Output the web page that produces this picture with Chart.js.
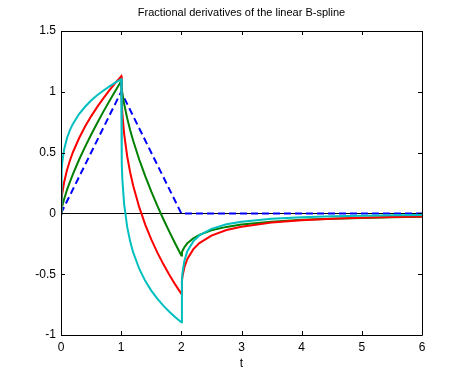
<!DOCTYPE html>
<html>
<head>
<meta charset="utf-8">
<script src="https://cdn.jsdelivr.net/npm/chart.js@4.4.9/dist/chart.umd.min.js"></script>
<style>
  html, body { margin: 0; padding: 0; background: #fff; }
  #wrap { width: 466px; height: 376px; }
</style>
</head>
<body>
<div id="wrap"><canvas id="chart" width="466" height="376"></canvas></div>
<script>
// sample points in t
const tValues = [0, 0.01, 0.02, 0.05, 0.1, 0.15, 0.2, 0.3, 0.4, 0.5, 0.6, 0.7, 0.8, 0.9, 1.0,
    1.01, 1.02, 1.05, 1.1, 1.15, 1.2, 1.3, 1.4, 1.5, 1.6, 1.7, 1.8, 1.9, 2.0,
    2.01, 2.02, 2.05, 2.1, 2.2, 2.3, 2.5, 2.75, 3, 3.5, 4, 4.5, 5, 5.5, 6];

// blue dashed hat (the spline itself)
const splineT = [0, 1, 2, 6];
const splineY = [0, 1, 0, 0];

// green curve
const greenY = [0, 0.034, 0.058, 0.115, 0.194, 0.262, 0.325, 0.441, 0.547, 0.647, 0.742, 0.833, 0.920, 1.005, 1.088,
    1.027, 0.989, 0.899, 0.782, 0.684, 0.597, 0.443, 0.306, 0.181, 0.064, -0.046, -0.150, -0.250, -0.346,
    -0.321, -0.307, -0.278, -0.246, -0.204, -0.176, -0.139, -0.111, -0.092, -0.068, -0.053, -0.044, -0.037, -0.031, -0.028];

// red curve
const redY = [0, 0.113, 0.160, 0.252, 0.357, 0.437, 0.505, 0.618, 0.714, 0.798, 0.874, 0.944, 1.009, 1.071, 1.128,
    0.908, 0.821, 0.652, 0.470, 0.336, 0.227, 0.051, -0.092, -0.214, -0.321, -0.417, -0.505, -0.586, -0.661,
    -0.555, -0.516, -0.445, -0.375, -0.294, -0.244, -0.182, -0.137, -0.109, -0.075, -0.056, -0.044, -0.036, -0.030, -0.026];

// cyan curve
const cyanY = [0, 0.349, 0.415, 0.522, 0.620, 0.687, 0.738, 0.817, 0.877, 0.928, 0.971, 1.009, 1.043, 1.075, 1.103,
    0.408, 0.279, 0.073, -0.111, -0.231, -0.321, -0.455, -0.555, -0.635, -0.701, -0.759, -0.809, -0.854, -0.895,
    -0.550, -0.487, -0.392, -0.311, -0.228, -0.181, -0.127, -0.090, -0.069, -0.045, -0.032, -0.024, -0.019, -0.015, -0.013];

const xTicks = [0, 1, 2, 3, 4, 5, 6];
const yTicks = [-1, -0.5, 0, 0.5, 1, 1.5];
const yTickLabels = ['-1', '-0.5', '0', '0.5', '1', '1.5'];

const pts = (xs, ys) => xs.map((x, i) => ({ x, y: ys[i] }));
const FONT = 'Liberation Sans, Arial, Helvetica, sans-serif';

// box round the axes and inward tick marks, matlab style
const boxPlugin = {
    id: 'box',
    afterDatasetsDraw(chart) {
        const { ctx, chartArea: a, scales } = chart;
        ctx.save();
        ctx.strokeStyle = '#000';
        ctx.lineWidth = 1;
        ctx.beginPath();
        ctx.rect(Math.round(a.left) + 0.5, Math.round(a.top) + 0.5,
            Math.round(a.right - a.left), Math.round(a.bottom - a.top));
        xTicks.forEach(v => {
            const px = Math.round(scales.x.getPixelForValue(v)) + 0.5;
            ctx.moveTo(px, a.bottom); ctx.lineTo(px, a.bottom - 4);
            ctx.moveTo(px, a.top); ctx.lineTo(px, a.top + 4);
        });
        yTicks.forEach(v => {
            const py = Math.round(scales.y.getPixelForValue(v)) + 0.5;
            ctx.moveTo(a.left, py); ctx.lineTo(a.left + 4, py);
            ctx.moveTo(a.right, py); ctx.lineTo(a.right - 4, py);
        });
        ctx.stroke();
        ctx.restore();
    }
};

new Chart(document.getElementById('chart'), {
    type: 'line',
    data: {
        datasets: [
            { data: pts(tValues, cyanY), borderColor: '#00bfbf', borderWidth: 2 },
            { data: pts(tValues, redY), borderColor: '#ff0000', borderWidth: 2 },
            { data: pts(tValues, greenY), borderColor: '#008000', borderWidth: 2 },
            { data: pts(splineT, splineY), borderColor: '#0000ff', borderWidth: 2, borderDash: [7, 4] }
        ]
    },
    options: {
        responsive: false,
        animation: false,
        devicePixelRatio: 1,
        elements: { point: { radius: 0 }, line: { tension: 0, fill: false } },
        layout: { padding: { left: 0, right: 44, top: 0, bottom: 0 } },
        plugins: {
            legend: { display: false },
            tooltip: { enabled: false },
            title: {
                display: true,
                fullSize: false,
                text: 'Fractional derivatives of the linear B-spline',
                color: '#000',
                font: { family: FONT, size: 11, weight: 'normal', lineHeight: 1.2 },
                padding: { top: 6, bottom: 11.8 }
            }
        },
        scales: {
            x: {
                type: 'linear',
                min: 0, max: 6,
                afterBuildTicks: s => { s.ticks = xTicks.map(v => ({ value: v })); },
                afterFit: s => { s.height = 41; },
                grid: { display: false, drawTicks: false },
                border: { display: false },
                ticks: { color: '#000', padding: 5, font: { family: FONT, size: 12 } },
                title: { display: true, text: 't', color: '#000', padding: { top: 0, bottom: 5 }, font: { family: FONT, size: 12 } }
            },
            y: {
                min: -1, max: 1.5,
                afterBuildTicks: s => { s.ticks = yTicks.map(v => ({ value: v })); },
                afterFit: s => { s.width = 61; },
                grid: {
                    drawTicks: false,
                    color: c => (c.tick && c.tick.value === 0) ? '#000' : 'rgba(0,0,0,0)',
                    lineWidth: 1
                },
                border: { display: false },
                ticks: {
                    color: '#000', padding: 5, font: { family: FONT, size: 12 },
                    callback: (v, i) => yTickLabels[i]
                }
            }
        }
    },
    plugins: [boxPlugin]
});
</script>
</body>
</html>
